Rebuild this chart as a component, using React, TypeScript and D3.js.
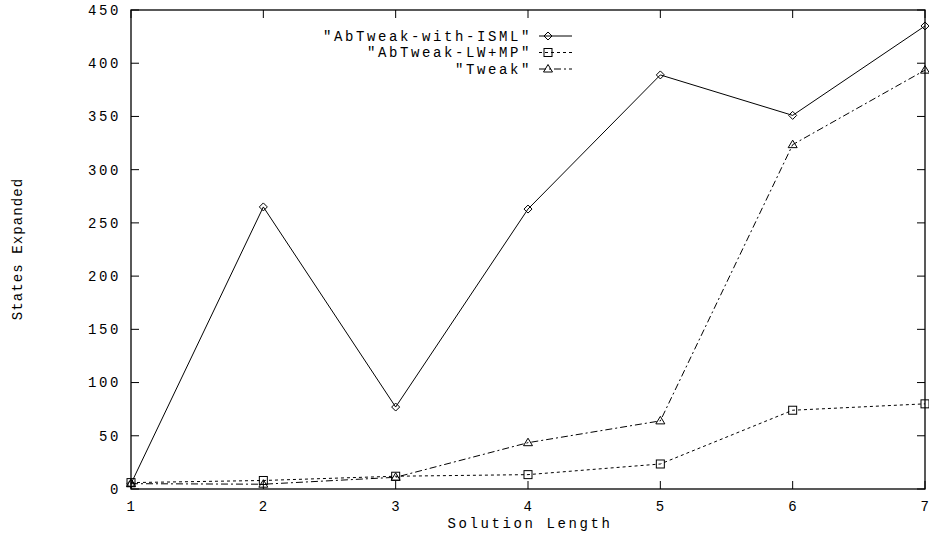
import React from "react";
import * as d3 from "d3";

const solutionLength = [1, 2, 3, 4, 5, 6, 7];
const isml = [5, 265, 77, 263, 389, 351, 435];
const lwmp = [6, 8, 12, 13.5, 23.5, 74, 80];
const tweak = [5, 4.5, 11, 43.5, 64, 323.5, 393.5];
const yTicks = [0, 50, 100, 150, 200, 250, 300, 350, 400, 450];
const seriesNames = ['"AbTweak-with-ISML"', '"AbTweak-LW+MP"', '"Tweak"'];

const W = 929;
const H = 533;
const left = 131;
const right = 925;
const top = 10;
const bottom = 489;

const FONT = "'Liberation Mono', 'DejaVu Sans Mono', monospace";
const FS = 14;
const LS = 2.6;

function Marker({ kind, x, y }: { kind: string; x: number; y: number }) {
  const s = 4;
  if (kind === "diamond") {
    return (
      <path
        d={`M${x},${y - s}L${x + s},${y}L${x},${y + s}L${x - s},${y}Z`}
        fill="none"
        stroke="#000"
        strokeWidth={1}
      />
    );
  }
  if (kind === "square") {
    return (
      <rect x={x - s} y={y - s} width={2 * s} height={2 * s} fill="none" stroke="#000" strokeWidth={1} />
    );
  }
  return (
    <path
      d={`M${x},${y - s - 0.5}L${x + s + 0.5},${y + s - 1}L${x - s - 0.5},${y + s - 1}Z`}
      fill="none"
      stroke="#000"
      strokeWidth={1}
    />
  );
}

export default function App() {
  const x = d3.scaleLinear().domain([1, 7]).range([left, right]);
  const y = d3.scaleLinear().domain([0, 450]).range([bottom, top]);
  const line = d3
    .line<number>()
    .x((_, i) => x(solutionLength[i]))
    .y((d) => y(d));

  const series = [
    { name: seriesNames[0], data: isml, marker: "diamond", dash: "none" },
    { name: seriesNames[1], data: lwmp, marker: "square", dash: "3,3" },
    { name: seriesNames[2], data: tweak, marker: "triangle", dash: "7,3,2,3" },
  ];

  const legendY = [36, 52.5, 69];

  return (
    <svg
      width={W}
      height={H}
      style={{ position: "absolute", left: 0, top: 0, background: "#fff" }}
      fontFamily={FONT}
    >
      <rect x={0} y={0} width={W} height={H} fill="#fff" />
      {/* ticks */}
      {yTicks.map((t) => (
        <g key={"y" + t}>
          <line x1={left} x2={left + 8} y1={y(t)} y2={y(t)} stroke="#000" />
          <line x1={right} x2={right - 8} y1={y(t)} y2={y(t)} stroke="#000" />
          <text
            x={121}
            y={y(t)}
            dy="0.35em"
            textAnchor="end"
            fontSize={FS}
            letterSpacing={LS}
            fill="#000"
          >
            {t}
          </text>
        </g>
      ))}
      {solutionLength.map((t) => (
        <g key={"x" + t}>
          <line x1={x(t)} x2={x(t)} y1={bottom} y2={bottom - 8} stroke="#000" />
          <line x1={x(t)} x2={x(t)} y1={top} y2={top + 8} stroke="#000" />
          <text x={x(t) + 1} y={511} textAnchor="middle" fontSize={FS} letterSpacing={LS} fill="#000">
            {t}
          </text>
        </g>
      ))}
      {/* box */}
      <rect
        x={left}
        y={top}
        width={right - left}
        height={bottom - top}
        fill="none"
        stroke="#000"
        strokeWidth={1.3}
      />
      {/* axis labels */}
      <text x={530} y={528} textAnchor="middle" fontSize={FS} letterSpacing={LS} fill="#000">
        Solution Length
      </text>
      <text
        transform={`translate(22,249) rotate(-90)`}
        textAnchor="middle"
        fontSize={14}
        letterSpacing={1.1}
        fill="#000"
      >
        States Expanded
      </text>
      {/* series */}
      {series.map((s) => (
        <g key={s.name}>
          <path d={line(s.data) || ""} fill="none" stroke="#000" strokeWidth={1} strokeDasharray={s.dash} />
          {s.data.map((v, i) => (
            <Marker key={i} kind={s.marker} x={x(solutionLength[i])} y={y(v)} />
          ))}
        </g>
      ))}
      {/* legend */}
      {series.map((s, i) => (
        <g key={"leg" + i}>
          <text
            x={532}
            y={legendY[i]}
            dy="0.35em"
            textAnchor="end"
            fontSize={FS}
            letterSpacing={LS}
            fill="#000"
          >
            {s.name}
          </text>
          <line
            x1={539}
            x2={572}
            y1={legendY[i]}
            y2={legendY[i]}
            stroke="#000"
            strokeWidth={1}
            strokeDasharray={s.dash}
          />
          <Marker kind={s.marker} x={548} y={legendY[i]} />
        </g>
      ))}
    </svg>
  );
}
